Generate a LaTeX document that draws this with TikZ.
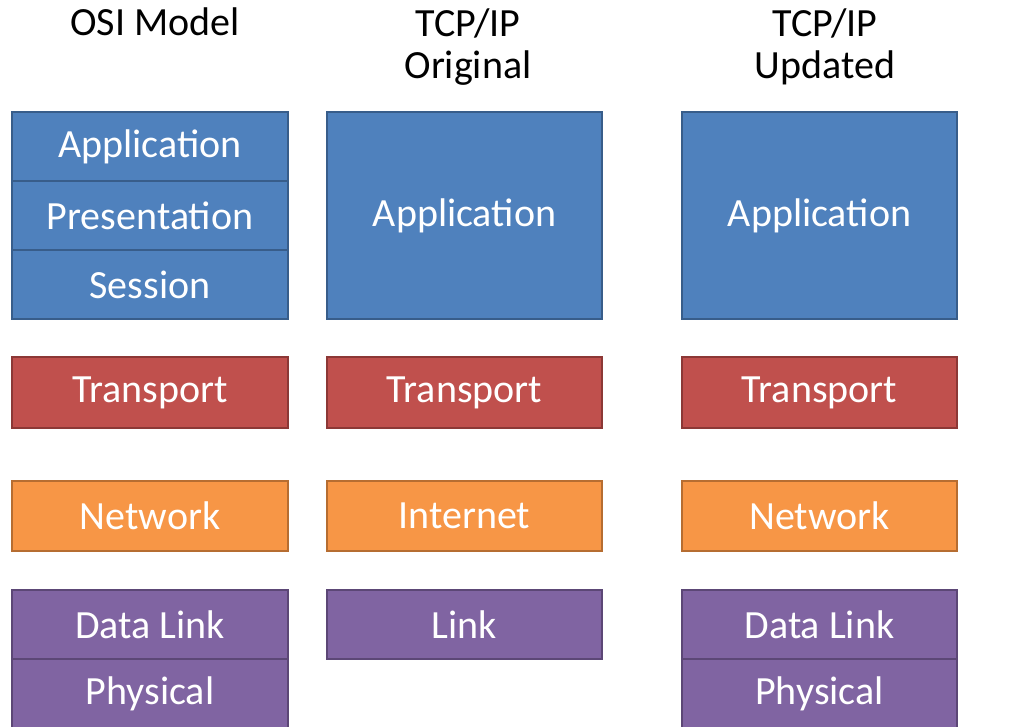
\documentclass[tikz,border=0pt]{standalone}
\usepackage{fontspec}
\setmainfont{Carlito}
\begin{document}
\begin{tikzpicture}[x=1pt,y=-1pt,
 lay/.style={draw, line width=2pt},
 blue/.style={lay, fill={rgb,255:red,79;green,129;blue,189}, draw={rgb,255:red,56;green,93;blue,138}},
 red/.style={lay, fill={rgb,255:red,192;green,80;blue,77}, draw={rgb,255:red,140;green,56;blue,54}},
 orng/.style={lay, fill={rgb,255:red,247;green,150;blue,70}, draw={rgb,255:red,182;green,109;blue,49}},
 purp/.style={lay, fill={rgb,255:red,128;green,100;blue,162}, draw={rgb,255:red,92;green,71;blue,118}},
 title/.style={font=\fontsize{40}{42}\selectfont, align=center, inner sep=0pt}]
\useasboundingbox (0,0) rectangle (1024,727);
\newcommand\lbox[6]{\path[#1] (#2,#3) rectangle (#4,#5) node[midway, text=white, font=\fontsize{40}{42}\selectfont] (n#2#3) {#6};}
% column 1
\lbox{blue}{12}{112}{288}{181}{Application}
\lbox{blue}{12}{181}{288}{250}{Presentation}
\lbox{blue}{12}{250}{288}{319}{Session}
\lbox{red}{12}{357}{288}{428}{Transport}
\lbox{orng}{12}{481}{288}{551}{Network}
\lbox{purp}{12}{590}{288}{659}{Data Link}
\lbox{purp}{12}{659}{288}{728}{Physical}
% column 2
\lbox{blue}{327}{112}{602}{319}{Application}
\lbox{red}{327}{357}{602}{428}{Transport}
\lbox{orng}{327}{481}{602}{551}{Internet}
\lbox{purp}{327}{590}{602}{659}{Link}
% column 3
\lbox{blue}{682}{112}{957}{319}{Application}
\lbox{red}{682}{357}{957}{428}{Transport}
\lbox{orng}{682}{481}{957}{551}{Network}
\lbox{purp}{682}{590}{957}{659}{Data Link}
\lbox{purp}{682}{659}{957}{728}{Physical}
\node[title] (t1) at (155,22) {OSI Model};
\node[title] (t2) at (468,47) {TCP/IP\\Original};
\node[title] (t3) at (825,47) {TCP/IP\\Updated};
\end{tikzpicture}
\end{document}
